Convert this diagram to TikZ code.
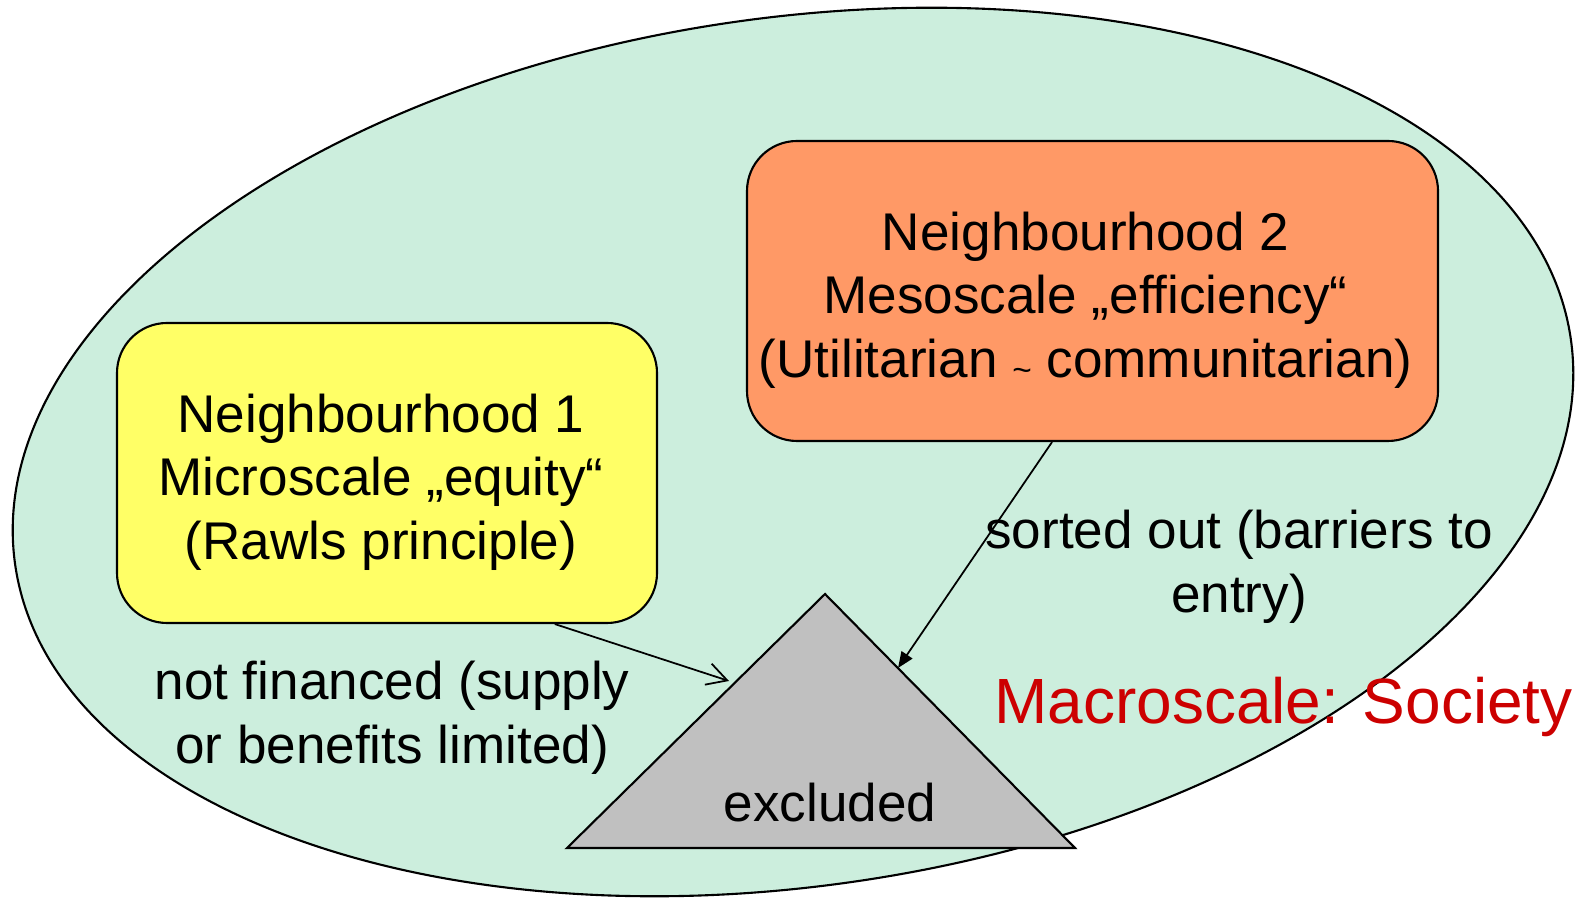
\documentclass[tikz,border=0pt]{standalone}
\usepackage{fontspec}
\setmainfont{Liberation Sans}
\usetikzlibrary{arrows.meta}
\definecolor{society}{RGB}{204,238,221}
\definecolor{micro}{RGB}{255,255,102}
\definecolor{meso}{RGB}{255,153,102}
\definecolor{excl}{RGB}{192,192,192}
\definecolor{macro}{RGB}{204,0,0}
\begin{document}
\begin{tikzpicture}[
	hood/.style={
		rectangle,
		rounded corners=5mm,
		draw,
		line width=0.6pt,
		minimum height=3cm,
	},
	note/.style={
		align=center,
		font=\fontsize{15.1}{18.1}\selectfont,
	},
	ArrowC1/.style={% thin connectors
		line width=0.5pt,
	},
]
	\useasboundingbox (0,0) rectangle (15.83,9.01);
	\draw [fill=society, line width=0.6pt, rotate around={8.3:(7.93,4.49)}]
		(7.93,4.49) ellipse [x radius=7.86cm, y radius=4.34cm];
	
	\node [hood, fill=micro, minimum width=5.4cm] (nb1) at (3.87,4.28) {};
	\node [note] (nb1text) at (3.81,4.19)
		{Neighbourhood 1\\Microscale „equity“\\(Rawls principle)};
	\node [hood, fill=meso, minimum width=6.91cm] (nb2) at (10.925,6.10) {};
	\node [note] (nb2text) at (10.855,6.01)
		{Neighbourhood 2\\Mesoscale „efficiency“\\(Utilitarian {\raisebox{-0.08em}{\fontsize{9.5}{9.5}\selectfont\textasciitilde}} communitarian)};
	
	% excluded triangle
	\coordinate (apex) at (8.25,3.07);
	\coordinate (bl) at (5.67,0.53);
	\coordinate (br) at (10.75,0.53);
	\draw [fill=excl, line width=0.6pt] (apex) -- (bl) -- (br) -- cycle;
	\node [note] (ex) at (8.30,0.98) {excluded};
	\coordinate (inL) at (7.29,2.20);
	\coordinate (inR) at (8.98,2.33);
	
	\node [note] (fin) at (3.92,1.83) {not financed (supply\\or benefits limited)};
	\node [note] (sort) at (12.39,3.34) {sorted out (barriers to\\entry)};
	\node [font=\fontsize{18.2}{21}\selectfont, text=macro] (soc) at (12.835,1.94) {Macroscale: Society};
	
	\draw [-{Straight Barb[length=2mm,width=2.2mm]},ArrowC1] (nb1.-42.3) -- (inL);
	\draw [-{Triangle[length=1.6mm,width=1.3mm]},ArrowC1] (nb2.-105.8) -- (inR);
\end{tikzpicture}
\end{document}
